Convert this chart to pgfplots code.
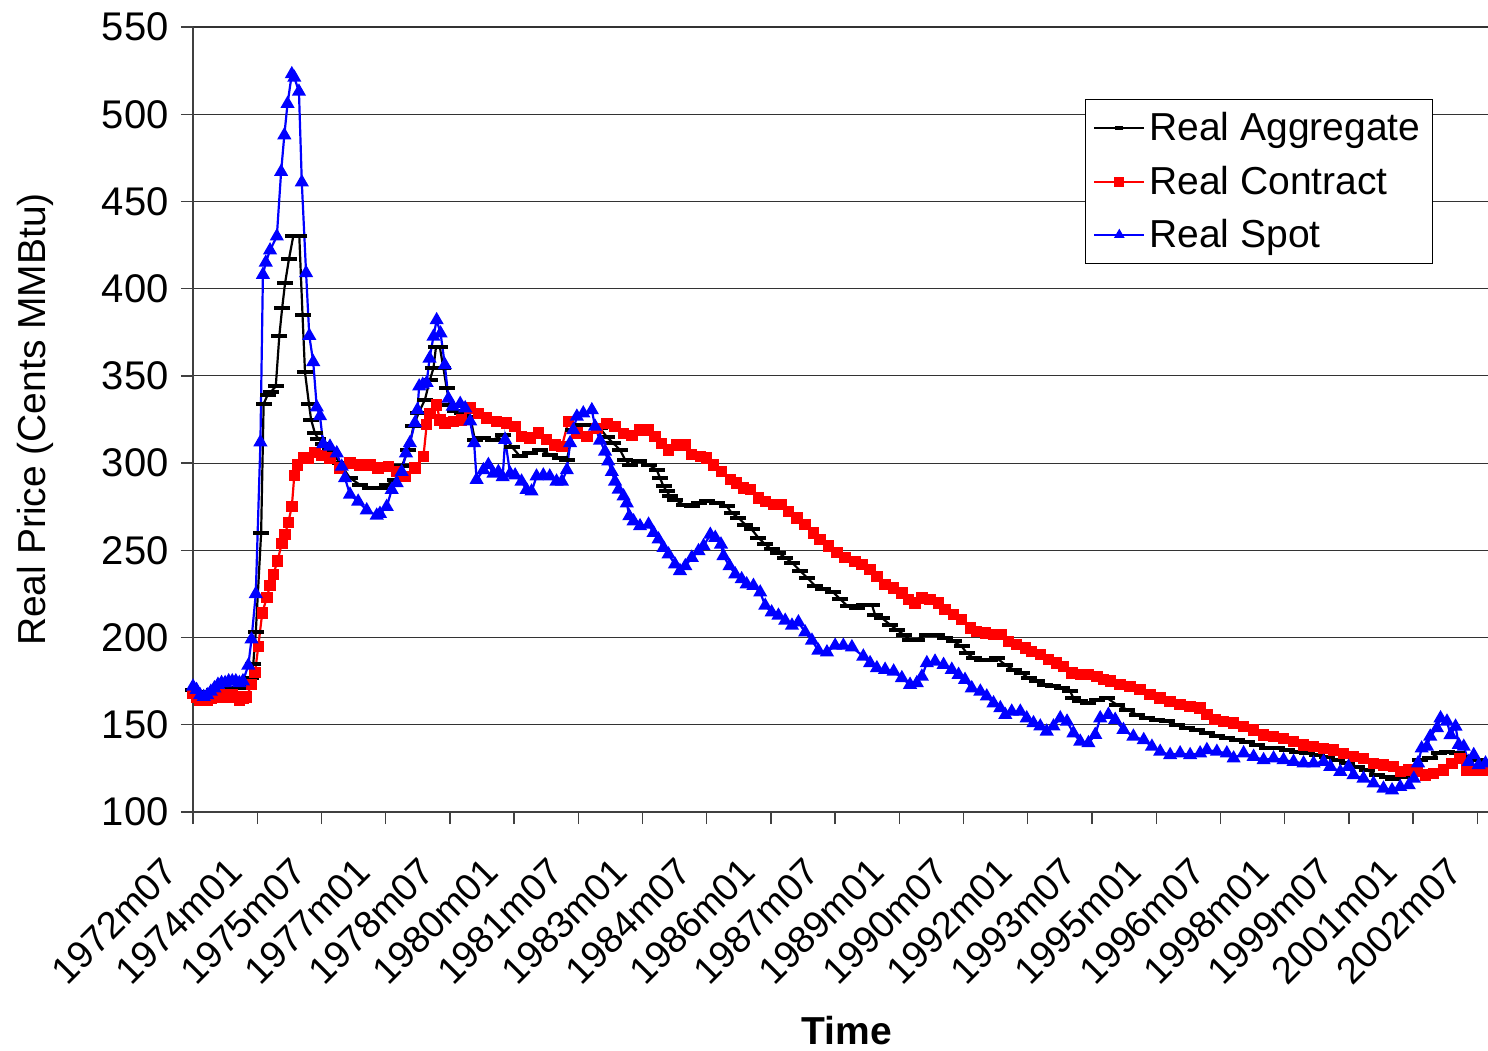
\documentclass[border=0pt]{standalone}
\usepackage{pgfplots}
\pgfplotsset{compat=1.18}
\usepackage{fontspec}
\setmainfont{Liberation Sans}
\newcommand{\F}{\fontsize{20}{23}\selectfont}
\newcommand{\FX}{\fontsize{19}{22}\selectfont}
\newcommand{\FL}{\fontsize{19.5}{22}\selectfont}
\begin{document}
\begin{tikzpicture}
\useasboundingbox (-96.5pt,-119pt) rectangle (647.5pt,406pt);
\begin{axis}[
  at={(0,0)}, anchor=south west,
  width=647.5pt, height=392.5pt, scale only axis,
  xmin=0, xmax=363, ymin=100, ymax=550,
  axis x line*=bottom, axis y line*=left,
  axis line style={black!75, line width=0.8pt},
  tick align=outside, major tick length=6pt,
  tick style={black!75, line width=0.7pt},
  xtick={0,18,...,360},
  xticklabels={1972m07,1974m01,1975m07,1977m01,1978m07,1980m01,1981m07,1983m01,1984m07,1986m01,1987m07,1989m01,1990m07,1992m01,1993m07,1995m01,1996m07,1998m01,1999m07,2001m01,2002m07},
  ytick={100,150,...,550},
  ymajorgrids, major grid style={black!80, line width=0.6pt},
  /pgf/number format/assume math mode=true,
  tick label style={font=\F},
  xticklabel style={font=\FX, xshift=-16pt, yshift=-14pt, rotate=45, anchor=north east, inner sep=1pt},
  yticklabel style={inner sep=2pt, xshift=-4pt},
  xlabel={\textbf{Time}},
  ylabel={Real Price (Cents MMBtu)},
  every axis x label/.style={at={(axis description cs:0.505,-0.278)}, anchor=center, font=\FL},
  every axis y label/.style={at={(axis description cs:-0.122,0.5)}, rotate=90, anchor=center, font=\FL},
  legend style={at={(0.9575,0.908)}, anchor=north east, font=\FL, draw=black, line width=0.5pt, fill=white, inner xsep=4pt, inner ysep=4.5pt, row sep=7pt, cells={anchor=west}},
  legend image code/.code={\draw[mark repeat=2,mark phase=2, mark size=2pt] plot coordinates {(0cm,0cm) (0.44cm,0cm) (0.88cm,0cm)};},
  clip=false,
]
\addplot[black, line width=1.1pt, mark=-, mark size=4pt, mark options={line width=2pt}] coordinates {
(0,170)(2,169)(4,169)(6,170)(8,170)(10,171)(12,171)(14,171)(15.5,172)(16.2,177)(16.9,185)(17.6,203)
(19.1,260)(19.8,334)(20.9,339)(21.9,341)(23.2,344)(24.2,373)(25,389)(25.8,403)(26.9,417)(28.1,430)
(29.8,430)(30.7,385)(31.4,352)(32.5,334)(33.1,325)(34.2,317)(35.1,314)(36.5,311)(38.4,307.6)(41.2,300)
(44,291.4)(46.8,287.6)(49.6,285.7)(52.4,285.7)(54.3,287.6)(56.6,290.5)(58.5,298.1)(60.4,307.6)(61.8,321)
(63.2,328.6)(65,336.3)(66.4,347.7)(67.4,354.4)(68.1,366.4)(69.2,366.4)(70.2,354.4)(71.1,343)(72,333.4)
(73.4,329.6)(75.3,328.6)(77.7,326.7)(79,313.4)(81.4,314.3)(84.2,313.4)(87,316.2)(89.3,309.5)(91.7,303.8)
(94.5,305.7)(97.3,307.6)(100.1,304.8)(102.9,302.9)(104.8,301.9)(106.6,319)(109.4,322)(112.2,322)(114.1,320)
(116,315)(117.8,311.4)(119.7,307.6)(121.1,302)(122.5,299)(124.9,301)(127.7,299)(130,296.2)(130.9,291.4)
(131.9,286.7)(132.8,283.8)(133.7,281)(135.1,279)(137.5,276.2)(139.8,275.3)(141.7,277.2)(144,278.1)
(146.8,277.2)(149.6,275.3)(151,271.5)(152.9,268.6)(154.8,264.8)(156.6,262)(158.5,257.2)(160.4,253.4)
(162.2,250.6)(164.1,248.7)(166,245.8)(167.9,243)(170.2,238.2)(172.1,234.4)(174.4,229.7)(176.7,227.8)
(179.5,225.9)(181.4,222)(183.5,218)(186,217)(188,218.8)(190.3,218.8)(191.2,213)(193.1,211.2)(195.4,207.4)
(197.3,204.5)(199.2,201.6)(201,198.8)(202.9,198.8)(205.7,201.6)(208.5,201.6)(210.8,199.7)(213.2,197.8)
(215.5,194.9)(216.9,191.1)(218.8,188.2)(221.1,187.3)(223.5,187.3)(225.3,188.2)(227.7,184.4)(230,181.6)
(232.3,179.6)(234.2,176.8)(236.5,174.9)(238.9,172.9)(241.2,172)(243.5,171)(245.9,169.1)(246.8,165.3)
(248.7,163.4)(251,162.4)(253.4,164.3)(256.2,165.3)(259,161.5)(261.8,158.7)(264.6,155.8)(267.4,153.9)
(270.2,152.9)(273,151.9)(275.8,150)(278.6,148.1)(281.4,147.1)(284.2,145.2)(287,143.3)(289.8,142.3)
(292.6,141.3)(295.4,140.4)(298.2,138.5)(301,136.5)(303.8,136.5)(306.6,135.6)(309.4,134.6)(312.3,133.7)
(315.1,132.7)(317.9,131.7)(320.7,129.8)(323.5,127.9)(326.3,126)(329.1,124)(331.9,121.2)(334.7,120.2)
(336.5,118.7)(338.9,120.2)(341.2,125)(344,129.8)(346.8,130.8)(349.2,133.7)(351.5,134.6)(354.3,133.7)
(357.1,131.7)(359.9,129.8)(362.7,127.9)
};
\addlegendentry{Real Aggregate}
\addplot[red, line width=1.1pt, mark=square*, mark size=2.3pt, mark options={solid}] coordinates {
(0,168)(1,166)(2,164)(3,164)(4,164)(5,165)(6,166)(7,166)(8,167)(9,167)(10,166)(11,167)(12,166)(13,164)
(14,165)(15,166)(16.4,173)(17.4,180)(18.3,195)(19.4,214)(20.7,223)(21.6,230)(22.5,236)(23.7,244)(24.9,254)
(25.8,259)(26.7,266)(27.7,275)(28.4,293)(29.3,299)(30.9,303)(32.3,303)(34.2,306)(36,304.5)(38.4,302.9)
(41.2,297.1)(44,300)(46.8,299)(49.6,299)(51.9,297.1)(54.8,298.1)(57.1,295.2)(59.4,292.4)(62.2,297.1)
(64.6,303.8)(65.5,322)(66.4,328.6)(68.3,333.4)(69.2,324.8)(70.6,322.9)(73,323.9)(75.3,324.8)(77.7,331.5)
(80,328.6)(82.3,325.8)(85.1,323.9)(87.9,322.9)(90.3,321)(92.1,315.3)(94.5,314.3)(96.8,317.2)(99.1,313.4)
(101.5,310.5)(103.4,309.5)(105.2,323.9)(107.6,317.2)(110.4,315.3)(113.2,320)(116,322.8)(118.3,321)
(120.7,317)(123,316)(125.3,319)(127.7,319)(129.5,315.2)(131.4,311.4)(133.3,307.6)(135.6,310.5)(138,310.5)
(139.8,304.8)(142.2,303.8)(144,302.9)(145.9,299)(148.2,295.2)(150.6,290.5)(152.4,288.6)(154.3,285.7)
(156.2,284.8)(158.5,280)(160.4,278.1)(162.7,276.2)(165,276.2)(166.9,272.4)(169.3,268.6)(171.6,264.8)
(173.9,260)(175.8,256.3)(178.1,252.5)(180.5,248.7)(182.8,245.8)(185.6,243.7)(187.5,241.8)(189.8,238.9)
(191.7,235.1)(194,230.3)(196.4,228.4)(198.7,225.5)(200.6,221.7)(202.4,219.8)(204.3,222.7)(206.6,221.7)
(209,219.8)(210.8,216)(213.2,213.1)(215.5,210.2)(217.9,205.5)(219.7,203.5)(222.1,202.6)(224.4,201.6)
(226.7,201.6)(228.6,197.8)(230.9,195.9)(233.3,194)(235.1,192)(237.5,190.2)(239.8,187.3)(242.1,185.4)
(244,183.5)(246.4,179.6)(248.7,178.7)(251,178.7)(253.4,177.7)(255.2,175.8)(257.1,175)(259.9,173.1)
(262.7,172.1)(265.5,170.2)(268.3,167.3)(271.1,165.4)(273.9,163.5)(276.7,161.5)(279.5,160.6)(282.3,159.6)
(284.2,155.8)(286.5,152.9)(288.9,151.9)(291.7,151)(294.5,149)(297.3,147.1)(300.1,144.2)(302.9,143.3)
(305.7,142.3)(308.5,140.4)(311.3,138.5)(314.1,137.5)(316.9,136.5)(319.7,135.6)(322.5,133.7)(325.3,131.7)
(328.1,130.8)(330.9,127.9)(333.7,126.9)(336.5,126)(338.4,123.1)(340.8,124)(343.1,123.1)(345.4,121.2)
(347.8,122.1)(350.6,124)(352.9,127.9)(355.2,130.8)(357.1,124)(359.9,124)(362.7,124)
};
\addlegendentry{Real Contract}
\addplot[blue, line width=1.1pt, mark=triangle*, mark size=3pt, mark options={solid}] coordinates {
(0,172)(1,170)(2,167)(3,166)(4,167)(5,169)(6,171)(7,173)(8,174)(9,174)(10,175)(11,175)(12,175)(13,174)
(14,175)(15.5,184)(16.4,199)(17.6,225)(18.9,312)(19.6,408)(20.4,415)(21.6,422)(23.5,430)(24.7,467)
(25.6,488)(26.5,506)(27.7,523)(28.4,521)(29.7,513)(30.5,461)(31.7,409)(32.6,373)(33.7,358)(34.7,332)
(35.6,327)(36.5,311)(38.4,309.5)(40.3,305.7)(41.7,298)(42.6,291.4)(44,282)(46.3,278)(48.7,273)(51.5,270)
(52.4,271)(54.3,275)(55.7,284.7)(57.1,288.6)(58.5,295)(59.7,305.7)(60.8,311.5)(62.2,323)(62.9,330.5)
(63.4,344)(64.4,345)(65.5,346)(66.3,360)(67.4,372.5)(68.3,382)(69.4,374.4)(70.6,356.3)(71.6,337)
(72.8,332.4)(74.9,334)(76.3,331.5)(77.7,324)(78.8,311.5)(79.5,290.5)(81.4,296)(82.8,299)(84.2,294)
(85.6,295)(86.8,292)(87.5,313.4)(88.9,294)(90.3,293)(92.1,289.5)(93.5,284.7)(94.9,283.8)(96.3,292.4)
(98.2,293)(100,292.4)(101.9,289.5)(103.4,289.5)(104.8,296)(105.7,311.5)(106.6,319)(107.6,326.7)
(109.4,328.6)(111.8,330.4)(112.7,321)(114.1,313)(115.5,306.7)(116.4,301)(117.4,295)(118.3,289.5)
(119.3,284.8)(120.7,281)(121.6,277)(122.3,269.6)(123.5,266.7)(125.3,263.9)(127.7,264.8)(129.1,260)
(130.5,256.3)(131.9,251.5)(133.3,247.7)(135.1,242)(136.5,238.2)(138,241)(139.8,245.8)(141.7,249.6)
(143.1,252.5)(145,259)(146.4,257.2)(148,253.4)(148.7,246.8)(150.4,241)(152,236.3)(153.8,233.5)
(155.2,230.6)(157.1,229.7)(159,225.9)(160.4,218.3)(162.2,214.5)(164.1,212.6)(166,209.7)(167.9,206.9)
(169.7,208.8)(171.6,203)(173.5,198.3)(175.3,192.6)(177.7,191.6)(180,195.4)(182.3,195.4)(184.7,194.5)
(187.9,189.2)(189.8,185.4)(191.7,182.5)(194,181.6)(196.4,180.6)(198.7,176.8)(201,173)(202.9,173.9)
(204.3,177.7)(205.7,185.4)(208,186.3)(210.4,184.4)(212.7,181.6)(214.6,178.7)(216.4,175.8)(218.3,171)
(220.7,169.1)(222.5,166.3)(224.4,162.4)(226.3,159.6)(227.7,155.7)(229.5,157.6)(231.9,157.6)(233.7,153.8)
(235.6,151)(237.5,149.1)(239.3,146.2)(241.2,149.1)(243.1,153.8)(245,151.9)(246.8,145.2)(248.7,140.4)
(251,139.5)(252.9,144.3)(254.3,153.8)(256.6,155.8)(258.5,152.9)(260.8,147.1)(263.6,143.3)(266.5,141.3)
(268.8,137.5)(271.1,134.6)(273.9,132.7)(276.7,133.7)(279.5,132.7)(282.3,133.7)(284.2,135.6)(287,134.6)
(289.8,133.7)(291.7,130.8)(294.5,133.7)(297.3,131.7)(300.1,129.8)(302.9,130.8)(305.7,129.8)(308.5,128.8)
(311.3,127.9)(314.1,127.9)(316.9,128.8)(318.8,126)(321.6,123.1)(323.9,126)(325.3,121.2)(328.1,119.2)
(330.9,116.4)(333.7,113.5)(336.1,112.5)(338.4,114.4)(340.8,115.4)(342.2,119.2)(343.4,128)(344.4,136.5)
(345.9,137.5)(346.8,143.3)(348.7,148.1)(349.7,153.8)(351.5,151.9)(352.5,144.2)(353.9,149)(354.8,138.5)
(356.2,137.5)(357.6,128.8)(359,132.7)(360.4,126.9)(362.3,127.9)
};
\addlegendentry{Real Spot}
\end{axis}
\end{tikzpicture}
\end{document}
